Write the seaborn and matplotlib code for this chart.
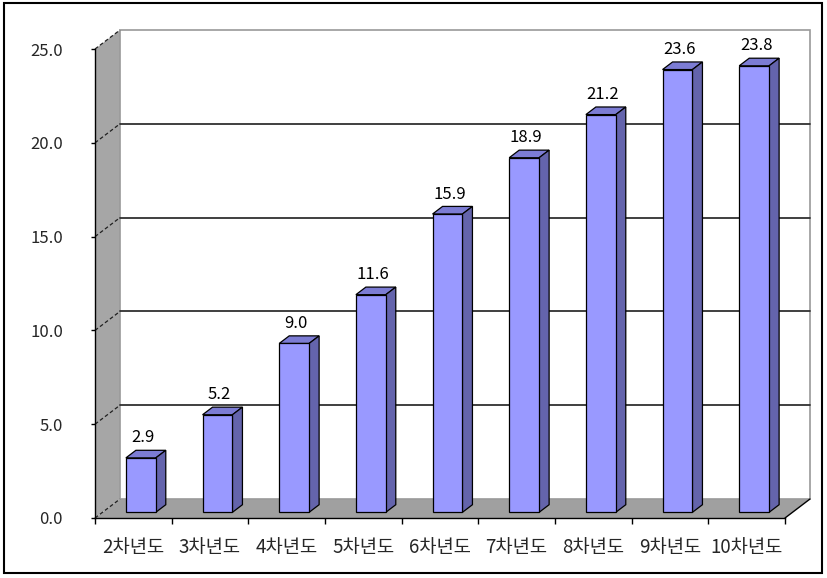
import numpy as np
import pandas as pd
import matplotlib
matplotlib.use("Agg")
import matplotlib.pyplot as plt
import seaborn as sns
from matplotlib.patches import Polygon, Rectangle
from matplotlib.lines import Line2D
from matplotlib.transforms import Affine2D

categories = ["2차년도", "3차년도", "4차년도", "5차년도", "6차년도",
              "7차년도", "8차년도", "9차년도", "10차년도"]
values = [2.9, 5.2, 9.0, 11.6, 15.9, 18.9, 21.2, 23.6, 23.8]
y_ticks = [0, 5, 10, 15, 20, 25]

sns.set_style("white")
plt.rcParams['font.family'] = ['Noto Sans CJK KR', 'DejaVu Sans']

W, H = 827, 578
fig = plt.figure(figsize=(W / 100, H / 100), dpi=100)
ax = fig.add_axes([95 / W, 60 / H, 690 / W, 469 / H])
ax.set_facecolor('none')

xmin, xmax = -0.5, len(categories) - 0.5
ymax = 25
pxu_x = 690 / len(categories)
pxu_y = 469 / ymax
DX = 25 / pxu_x
DY = 19 / pxu_y

kw = dict(clip_on=False)

# bars first (front faces through seaborn)
df = pd.DataFrame({"cat": categories, "val": values})
sns.barplot(data=df, x="cat", y="val", color='#9999ff', saturation=1, width=0.39,
            edgecolor='black', linewidth=0.9, ax=ax)
bars = [p for p in ax.patches if isinstance(p, Rectangle)]

# left wall
ax.add_patch(Polygon([(xmin, 0), (xmin, ymax), (xmin + DX, ymax + DY), (xmin + DX, DY)],
                     closed=True, fc='#a6a6a6', ec='none', zorder=0, **kw))
# floor
ax.add_patch(Polygon([(xmin, 0), (xmax, 0), (xmax + DX, DY), (xmin + DX, DY)],
                     closed=True, fc='#a0a0a0', ec='none', zorder=0, **kw))
# back wall
ax.add_patch(Rectangle((xmin + DX, DY), xmax - xmin, ymax, fc='white', ec='#9a9a9a',
                       lw=1.2, zorder=0.5, **kw))
for v in y_ticks[1:-1]:
    ax.add_line(Line2D([xmin + DX, xmax + DX], [v + DY, v + DY], color='#303030', lw=1.3,
                       zorder=1, **kw))
for v in y_ticks:
    ax.add_line(Line2D([xmin, xmin + DX], [v, v + DY], color='#202020', lw=0.9,
                       ls=(0, (3, 2)), zorder=1, **kw))
ax.add_line(Line2D([xmax, xmax + DX], [0, DY], color='black', lw=1.0, zorder=1, **kw))

f0, fd = 0.3, 0.4
ox, oy = f0 * DX, f0 * DY
dx, dy = fd * DX, fd * DY
for p, v in zip(bars, values):
    p.set_transform(Affine2D().translate(ox, oy) + ax.transData)
    p.set_zorder(5)
    p.set_clip_on(False)
    x0, w, h = p.get_x(), p.get_width(), p.get_height()
    top = [(x0 + ox, h + oy), (x0 + w + ox, h + oy), (x0 + w + ox + dx, h + oy + dy),
           (x0 + ox + dx, h + oy + dy)]
    side = [(x0 + w + ox, oy), (x0 + w + ox, h + oy), (x0 + w + ox + dx, h + oy + dy),
            (x0 + w + ox + dx, oy + dy)]
    ax.add_patch(Polygon(top, closed=True, fc='#7c7cd4', ec='black', lw=0.9, zorder=4, **kw))
    ax.add_patch(Polygon(side, closed=True, fc='#6464ac', ec='black', lw=0.9, zorder=4, **kw))
    ax.annotate(f"{v:.1f}", (x0 + w / 2 + ox, h + oy), xytext=(2, 20),
                textcoords='offset pixels', ha='center', va='center', fontsize=12,
                color='black')

ax.set_xlim(xmin, xmax)
ax.set_ylim(0, ymax)
ax.set_xlabel('')
ax.set_ylabel('')
ax.set_yticks(y_ticks)
ax.set_yticklabels([f"{t:.1f}" for t in y_ticks])
ax.set_xticks(range(len(categories)))
ax.set_xticklabels(categories)
ax.set_xticks(np.arange(xmin, xmax + 0.01, 1), minor=True)
ax.tick_params(axis='x', which='major', length=0, pad=14, labelsize=13.5)
ax.tick_params(axis='x', which='minor', length=4, width=1, direction='out', color='black',
               bottom=True)
ax.tick_params(axis='y', which='major', length=3, width=1, direction='out', color='black',
               left=True, pad=20, labelsize=12)
for s in ['top', 'right']:
    ax.spines[s].set_visible(False)
for s in ['left', 'bottom']:
    ax.spines[s].set_visible(True)
    ax.spines[s].set_color('black')
    ax.spines[s].set_linewidth(1.0)
    ax.spines[s].set_zorder(6)

fig.patches.append(Rectangle((4 / W, 5 / H), 818 / W, 570 / H, transform=fig.transFigure,
                             fill=False, ec='black', lw=1.5))
fig.savefig("out.png", dpi=100)
